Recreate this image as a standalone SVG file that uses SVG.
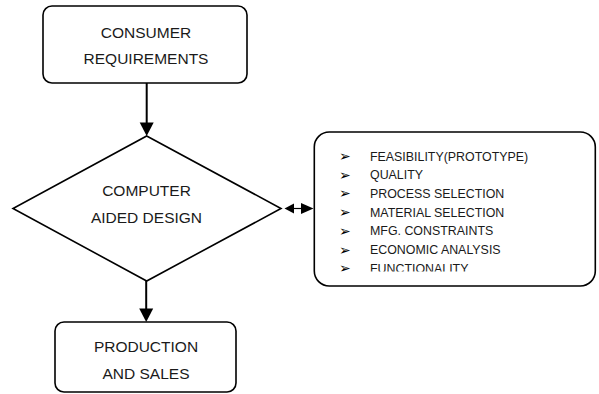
<svg xmlns="http://www.w3.org/2000/svg" width="599" height="394" viewBox="0 0 599 394">
<style>
.box{fill:#fff;stroke:#000;stroke-width:1.6}
.lbl{font-family:"Liberation Sans",Arial,sans-serif;font-size:15.5px;fill:#1a1a1a;text-anchor:middle}
.item{font-family:"Liberation Sans",Arial,sans-serif;font-size:12.4px;fill:#1a1a1a}
.bul{font-family:"DejaVu Sans",sans-serif;font-size:14px;fill:#000}
.conn{stroke:#000;stroke-width:2;fill:none}
</style>
<defs>
<clipPath id="clipList"><rect x="314" y="132" width="282" height="139.5"/></clipPath>
</defs>
<rect width="599" height="394" fill="#fff"/>
<g id="consumer">
<rect class="box" x="43" y="6" width="204" height="77" rx="9"/>
<text class="lbl" x="146" y="37.5">CONSUMER</text>
<text class="lbl" x="146" y="63.5">REQUIREMENTS</text>
</g>
<g id="cad">
<polygon class="box" points="146.7,136 281,208.5 146.7,281 13,208.5"/>
<text class="lbl" x="146.5" y="196">COMPUTER</text>
<text class="lbl" x="146.5" y="222.5">AIDED DESIGN</text>
</g>
<g id="production">
<rect class="box" x="55" y="322" width="181" height="70" rx="9"/>
<text class="lbl" x="146" y="352">PRODUCTION</text>
<text class="lbl" x="146" y="379">AND SALES</text>
</g>
<g id="factors">
<rect class="box" x="314.3" y="132" width="281" height="154" rx="15"/>
<g clip-path="url(#clipList)">
<text class="bul" x="339" y="161">➢</text><text class="item" x="370" y="160.5">FEASIBILITY(PROTOTYPE)</text>
<text class="bul" x="339" y="179.7">➢</text><text class="item" x="370" y="179.2">QUALITY</text>
<text class="bul" x="339" y="198.4">➢</text><text class="item" x="370" y="197.9">PROCESS SELECTION</text>
<text class="bul" x="339" y="217.1">➢</text><text class="item" x="370" y="216.6">MATERIAL SELECTION</text>
<text class="bul" x="339" y="235.8">➢</text><text class="item" x="370" y="235.3">MFG. CONSTRAINTS</text>
<text class="bul" x="339" y="254.5">➢</text><text class="item" x="370" y="254">ECONOMIC ANALYSIS</text>
<text class="bul" x="339" y="273.2">➢</text><text class="item" x="370" y="272.7">FUNCTIONALITY</text>
</g>
</g>
<g id="connectors">
<line class="conn" x1="146.7" y1="83" x2="146.7" y2="123"/>
<path d="M139.7,122.5 L153.7,122.5 L146.7,136 Z" fill="#000"/>
<line class="conn" x1="146.2" y1="281" x2="146.2" y2="309"/>
<path d="M139.2,308.5 L153.2,308.5 L146.2,322 Z" fill="#000"/>
<line x1="290" y1="208.5" x2="305" y2="208.5" stroke="#000" stroke-width="1.2"/>
<path d="M284.5,208.5 L294,203.5 L294,213.5 Z" fill="#000"/>
<path d="M313.5,208.5 L301,203 L301,214 Z" fill="#000"/>
</g>
</svg>
